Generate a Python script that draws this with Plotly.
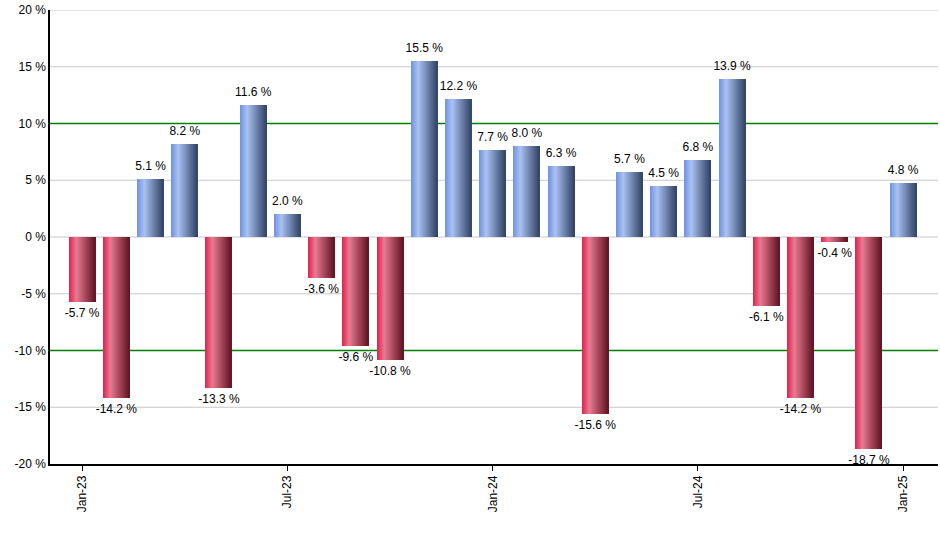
import plotly.graph_objects as go

months = ["Jan-23","Feb-23","Mar-23","Apr-23","May-23","Jun-23","Jul-23","Aug-23","Sep-23","Oct-23",
          "Nov-23","Dec-23","Jan-24","Feb-24","Mar-24","Apr-24","May-24","Jun-24","Jul-24","Aug-24",
          "Sep-24","Oct-24","Nov-24","Dec-24","Jan-25"]
values = [-5.7, -14.2, 5.1, 8.2, -13.3, 11.6, 2.0, -3.6, -9.6, -10.8,
          15.5, 12.2, 7.7, 8.0, 6.3, -15.6, 5.7, 4.5, 6.8, 13.9,
          -6.1, -14.2, -0.4, -18.7, 4.8]
xtick_labels = ["Jan-23", "Jul-23", "Jan-24", "Jul-24", "Jan-25"]
ytick_values = [-20, -15, -10, -5, 0, 5, 10, 15, 20]
ytick_labels = ["-20 %", "-15 %", "-10 %", "-5 %", "0 %", "5 %", "10 %", "15 %", "20 %"]
ref_lines = [10, -10]

idx = list(range(len(months)))
xtick_vals = [months.index(m) for m in xtick_labels]

# gradient stops (fraction across bar width, rgb)
blue_stops = [(0.0, (110, 146, 224)), (0.28, (170, 194, 242)), (1.0, (50, 68, 102))]
red_stops = [(0.0, (224, 32, 76)), (0.28, (233, 122, 146)), (1.0, (96, 20, 36))]

def interp(stops, t):
    for (t0, c0), (t1, c1) in zip(stops[:-1], stops[1:]):
        if t0 <= t <= t1:
            f = (t - t0) / (t1 - t0) if t1 > t0 else 0
            return "rgb(%d,%d,%d)" % tuple(round(a + (b - a) * f) for a, b in zip(c0, c1))
    return "rgb(%d,%d,%d)" % stops[-1][1]

fig = go.Figure()

# gridlines and reference lines as shapes below the bars
for yv in ytick_values:
    if yv in ref_lines or yv == -20:
        continue
    fig.add_shape(type="line", xref="paper", x0=0, x1=1, yref="y", y0=yv, y1=yv,
                  line=dict(color="#c8c8c8", width=1), layer="below")
for yv in ref_lines:
    fig.add_shape(type="line", xref="paper", x0=0, x1=1, yref="y", y0=yv, y1=yv,
                  line=dict(color="#008000", width=1.3), layer="below")

bw = 0.76
N = 26
sw = bw / N
for k in range(N):
    t = (k + 0.5) / N
    colors = [interp(blue_stops, t) if v >= 0 else interp(red_stops, t) for v in values]
    fig.add_trace(go.Bar(
        x=idx, y=values, width=sw * 1.4, offset=-bw / 2 + k * sw,
        marker=dict(color=colors, line=dict(width=0)),
        hoverinfo="skip", showlegend=False,
    ))

labels = ["%.1f %%" % v for v in values]
fig.add_trace(go.Scatter(
    x=idx, y=values, mode="markers+text", text=labels,
    marker=dict(size=8, opacity=0),
    textposition=["top center" if v >= 0 else "bottom center" for v in values],
    textfont=dict(family="Liberation Sans, Arial, sans-serif", size=12, color="#000000"),
    hoverinfo="skip", showlegend=False, cliponaxis=False,
))

fig.update_layout(
    width=940, height=550,
    margin=dict(l=50, r=2, t=10, b=86),
    paper_bgcolor="white", plot_bgcolor="white",
    barmode="overlay", bargap=0,
    font=dict(family="Liberation Sans, Arial, sans-serif", size=12, color="#000000"),
    xaxis=dict(range=[-0.94, 25.02], tickvals=xtick_vals, ticktext=xtick_labels,
               tickangle=-90, ticks="outside", ticklen=5, tickcolor="#000000",
               showline=True, linecolor="#000000", linewidth=1.5, showgrid=False,
               zeroline=False, fixedrange=True, automargin=False,
               ticklabeloverflow="allow"),
    yaxis=dict(range=[-20, 20], tickvals=ytick_values, ticktext=ytick_labels,
               showline=True, linecolor="#000000", linewidth=1.5,
               showgrid=False, zeroline=False,
               ticks="", fixedrange=True, automargin=False,
               ticklabeloverflow="allow"),
)

fig.write_html("out.html", config={"displayModeBar": False},
               post_script="document.body.style.margin='0';document.body.style.overflow='hidden';")
